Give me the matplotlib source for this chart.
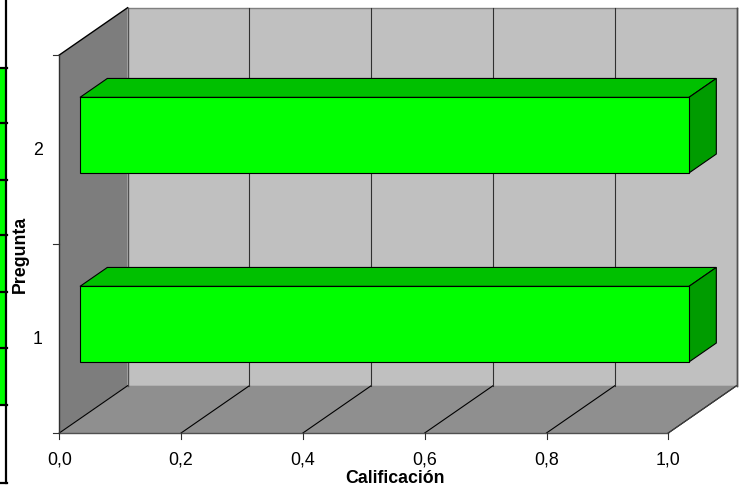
import matplotlib
matplotlib.use('Agg')
import matplotlib.pyplot as plt
from matplotlib.patches import Polygon, Rectangle
from matplotlib.lines import Line2D

# ---- data ----
categories = ['1', '2']
values = [1.0, 1.0]
xticks = [0.0, 0.2, 0.4, 0.6, 0.8, 1.0]
xtick_labels = ['0,0', '0,2', '0,4', '0,6', '0,8', '1,0']
xlabel = 'Calificación'
ylabel = 'Pregunta'

W, H = 744, 486
plt.rcParams['font.family'] = ['Liberation Sans', 'DejaVu Sans']
fig = plt.figure(figsize=(W / 100, H / 100), dpi=100)

# decorative spreadsheet strip at the left edge (pixel coordinates)
axs = fig.add_axes([0, 0, 1, 1], zorder=0)
axs.set_xlim(0, W)
axs.set_ylim(H, 0)
axs.axis('off')
cell_edges = [68, 123, 180, 235, 292, 348, 405]
axs.add_patch(Rectangle((0, cell_edges[0]), 5.5, cell_edges[-1] - cell_edges[0],
                        facecolor='#00FF00', edgecolor='none'))
for yv in cell_edges:
    axs.add_line(Line2D([0, 6.5], [yv, yv], color='black', lw=1.6))
axs.add_line(Line2D([6, 6], [0, 483], color='black', lw=1.6))
axs.add_line(Line2D([0, 6.8], [483, 483], color='black', lw=1.6))

# main chart axes (data coordinates)
ax = fig.add_axes([0, 0, 1, 1], zorder=1)
PX0, SX = 59.3, 609.0
PY0, SY = 433.0, 189.0
ax.set_xlim(-PX0 / SX, (W - PX0) / SX)
ax.set_ylim((PY0 - H) / SY, PY0 / SY)
ax.axis('off')

DX, DY = 68.3 / SX, 47.3 / SY
ymax = float(len(categories))
vmax = xticks[-1]


def P(v, c, d):
    return (v + d * DX, c + d * DY)


def poly(pts, fc, ec='none', lw=0.0, z=1):
    ax.add_patch(Polygon(pts, closed=True, facecolor=fc, edgecolor=ec, lw=lw, zorder=z,
                         joinstyle='miter'))


def line(p, q, color='black', lw=0.8, z=2):
    ax.add_line(Line2D([p[0], q[0]], [p[1], q[1]], color=color, lw=lw, zorder=z))


# walls and floor
poly([P(0, 0, 1), P(vmax, 0, 1), P(vmax, ymax, 1), P(0, ymax, 1)], '#C0C0C0')
poly([P(0, 0, 0), P(0, 0, 1), P(0, ymax, 1), P(0, ymax, 0)], '#7D7D7D')
poly([P(0, 0, 0), P(vmax, 0, 0), P(vmax, 0, 1), P(0, 0, 1)], '#8F8F8F')

# wall edges
line(P(0, ymax, 1), P(vmax, ymax, 1), color='#808080', lw=1.0)
line(P(vmax, 0, 1), P(vmax, ymax, 1), color='#606060', lw=1.0)
line(P(0, 0, 1), P(0, ymax, 1), color='#505050', lw=1.0)
line(P(0, ymax, 0), P(0, ymax, 1), color='black', lw=1.0)

# gridlines (floor + back wall)
for v in xticks:
    line(P(v, 0, 0), P(v, 0, 1), color='black', lw=0.8)
    if v > 0:
        line(P(v, 0, 1), P(v, ymax, 1), color='#303030', lw=0.8)
line(P(vmax, 0, 0), P(vmax, 0, 1), color='#404040', lw=0.8)
line(P(vmax, 0, 1), P(vmax, ymax, 1), color='#505050', lw=1.0)

# axes lines
line(P(0, 0, 0), P(0, ymax, 0), color='#303030', lw=1.0)
line(P(0, 0, 0), P(vmax, 0, 0), color='#505050', lw=1.0)

# ticks
tlx = 6.0 / SX
tly = 6.0 / SY
for v in xticks:
    line((v, 0), (v, -tly), color='#303030', lw=0.8)
for c in range(len(categories) + 1):
    line((0, c), (-tlx, c), color='#303030', lw=0.8)

# bars
h = 0.2
f1, f2 = 0.303, 0.703
for i, val in enumerate(values):
    c = i + 0.5
    poly([P(0, c + h, f1), P(val, c + h, f1), P(val, c + h, f2), P(0, c + h, f2)],
         '#00C000', 'black', 0.8, 3)
    poly([P(val, c - h, f1), P(val, c - h, f2), P(val, c + h, f2), P(val, c + h, f1)],
         '#009C00', 'black', 0.8, 3)
    poly([P(0, c - h, f1), P(val, c - h, f1), P(val, c + h, f1), P(0, c + h, f1)],
         '#00FF00', 'black', 0.8, 4)

FS = 12.8
# tick labels
ylab_c = (PY0 - 460) / SY
for v, lab in zip(xticks, xtick_labels):
    ax.text(v, ylab_c, lab, ha='center', va='center', fontsize=FS, color='black')
xlab_v = (38 - PX0) / SX
for i, lab in enumerate(categories):
    ax.text(xlab_v, i + 0.5 - 1.0 / SY, lab, ha='center', va='center', fontsize=FS,
            color='black')

# axis titles
ax.text((394.5 - PX0) / SX, (PY0 - 478) / SY, xlabel, ha='center', va='center',
        fontsize=FS, fontweight='bold')
ax.text((20.7 - PX0) / SX, (PY0 - 254) / SY, ylabel, ha='center', va='center',
        fontsize=FS, fontweight='bold', rotation=90)

fig.savefig('out.png', dpi=100)
